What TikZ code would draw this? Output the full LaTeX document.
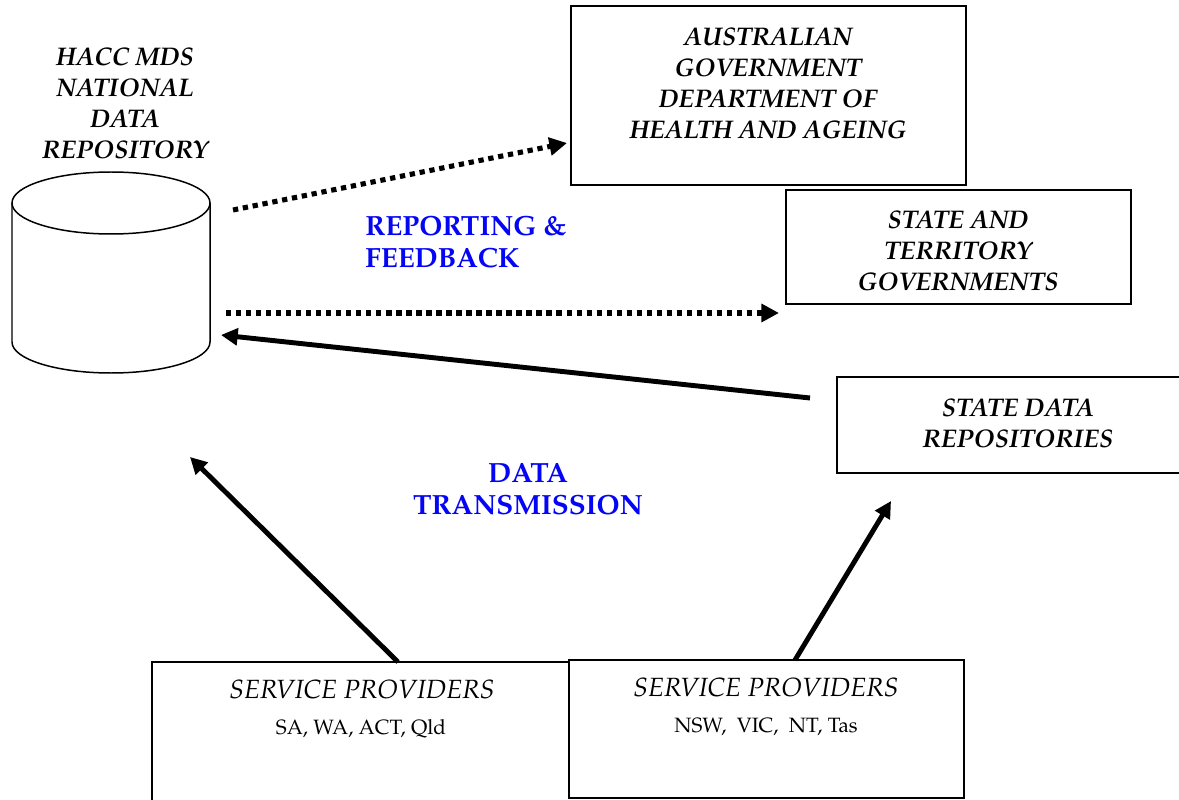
\documentclass[tikz,border=0pt]{standalone}
\usepackage[T1]{fontenc}
\usepackage{mathpazo}
\usetikzlibrary{arrows.meta}
\definecolor{lblblue}{RGB}{5,5,245}
\begin{document}
\begin{tikzpicture}[x=0.02cm,y=-0.02cm,
  box/.style={draw, line width=0.85pt, fill=white, inner sep=0pt, outer sep=0pt, anchor=north west},
  ttl/.style={font=\fontsize{14.5}{17.6}\selectfont\bfseries\itshape, align=center, inner sep=0pt},
  ttlplain/.style={font=\fontsize{15}{17.6}\selectfont\itshape, align=center, inner sep=0pt},
  small/.style={font=\fontsize{11.8}{13}\selectfont, inner sep=0pt},
  blue lbl/.style={font=\fontsize{15.8}{18}\selectfont\bfseries, text=lblblue, inner sep=0pt},
  dotarrow/.style={line width=2.9pt, dash pattern=on 3pt off 2.7pt, -{Triangle[length=10pt,width=10pt]}},
  solidarrow/.style={line width=2.8pt, -{Triangle[length=9.5pt,width=9.5pt]}}]
\useasboundingbox (0,0) rectangle (1179,800);
% database cylinder
\draw[line width=0.85pt, fill=white] (12,203) -- (12,342) arc[start angle=180, end angle=0, x radius=99, y radius=31] -- (210,203);
\draw[line width=0.85pt] (111,203) ellipse [x radius=99, y radius=31];
\node[inner sep=0pt, minimum width=3.96cm, minimum height=3.4cm] (db) at (111,273) {};
\node[ttl] (dblbl) at (125,103) {HACC MDS\\NATIONAL\\DATA\\REPOSITORY};
% boxes
\node[box, minimum width=7.9cm, minimum height=3.58cm] (aus) at (571,6) {};
\node[ttl] (austxt) at (768,83.5) {AUSTRALIAN\\GOVERNMENT\\DEPARTMENT OF\\HEALTH AND AGEING};
\node[box, minimum width=6.9cm, minimum height=2.28cm] (stg) at (786,190) {};
\node[ttl] (stgtxt) at (958,251) {STATE AND\\TERRITORY\\GOVERNMENTS};
\node[box, minimum width=7.2cm, minimum height=1.92cm] (sdr) at (837,377) {};
\node[ttl] (sdrtxt) at (1018,423) {STATE DATA\\REPOSITORIES};
\begin{scope}
\clip (0,0) rectangle (569,800);
\node[box, minimum width=8.6cm, minimum height=3.2cm] (spl) at (152,662) {};
\end{scope}
\node[box, minimum width=7.9cm, minimum height=2.76cm] (spr) at (569,660) {};
\node[ttlplain] (spltxt) at (362,689) {SERVICE PROVIDERS};
\node[small] (splst) at (361,729) {SA, WA, ACT, Qld};
\node[ttlplain] (sprtxt) at (766,687) {SERVICE PROVIDERS};
\node[small] (sprst) at (766,727) {NSW,\ \ VIC,\ \ NT, Tas};
% labels
\node[blue lbl, align=left, anchor=west] (rep) at (365,242) {REPORTING \&\\FEEDBACK};
\node[blue lbl, align=center] (trans) at (528,489) {DATA\\TRANSMISSION};
% connector ends
\coordinate (d1s) at (233,210);
\coordinate (d1e) at (567,143);
\coordinate (d2s) at (226,313);
\coordinate (d2e) at (779,313);
\coordinate (s1s) at (810,398);
\coordinate (s1e) at (221,335);
\coordinate (s2s) at (398,662);
\coordinate (s2e) at (190,457);
\coordinate (s3s) at (795,660);
\coordinate (s3e) at (891,501);
% connectors
\draw[dotarrow] (d1s) -- (d1e);
\draw[dotarrow] (d2s) -- (d2e);
\draw[solidarrow] (s1s) -- (s1e);
\draw[solidarrow] (s2s) -- (s2e);
\draw[solidarrow] (s3s) -- (s3e);
\end{tikzpicture}
\end{document}
